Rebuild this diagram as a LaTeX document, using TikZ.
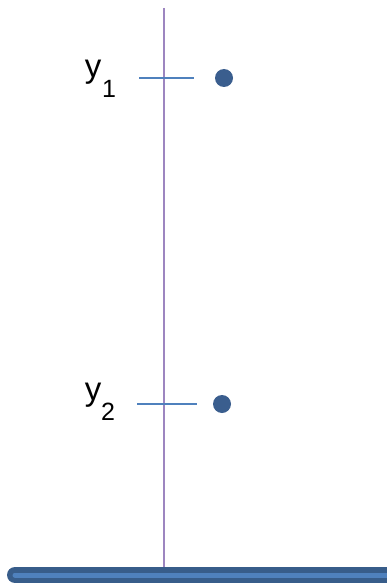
\documentclass[tikz,border=0pt]{standalone}
\usepackage{fontspec}
\setmainfont{Liberation Sans}
\begin{document}
\begin{tikzpicture}[x=1pt,y=-1pt,
  axisline/.style={draw=axispurple,line width=1.6pt},
  tickline/.style={draw=tickblue,line width=1.5pt},
  dotnode/.style={circle,fill=dotblue,minimum size=18pt,inner sep=0pt},
  lbl/.style={inner sep=0pt,font=\fontsize{33}{36}\selectfont},
  sublbl/.style={inner sep=0pt,font=\fontsize{25}{28}\selectfont}]
\definecolor{axispurple}{HTML}{9D86C0}
\definecolor{tickblue}{HTML}{4F81BD}
\definecolor{dotblue}{HTML}{3A5E8E}
\definecolor{bardark}{HTML}{385D8A}
\definecolor{barlight}{HTML}{4F81BD}
\useasboundingbox (0,0) rectangle (387,583);
% vertical axis
\coordinate (top) at (164,8);
\coordinate (bot) at (164,567);
\draw[axisline] (top) -- (bot);
% ground bar
\coordinate (barL) at (15,575);
\coordinate (barR) at (400,575);
\draw[bardark,line width=16pt,line cap=round] (barL) -- (barR);
\draw[barlight,line width=5pt,line cap=round] (barL) -- (barR);
% tick 1
\coordinate (t1a) at (139,78);
\coordinate (t1b) at (194,78);
\draw[tickline] (t1a) -- (t1b);
\node[dotnode] (d1) at (224,78) {};
\node[lbl] (y1) at (93,72) {y};
\node[sublbl] (s1) at (109,89) {1};
% tick 2
\coordinate (t2a) at (137,404);
\coordinate (t2b) at (197,404);
\draw[tickline] (t2a) -- (t2b);
\node[dotnode] (d2) at (222,404) {};
\node[lbl] (y2) at (93,395) {y};
\node[sublbl] (s2) at (108,412) {2};
\end{tikzpicture}
\end{document}
